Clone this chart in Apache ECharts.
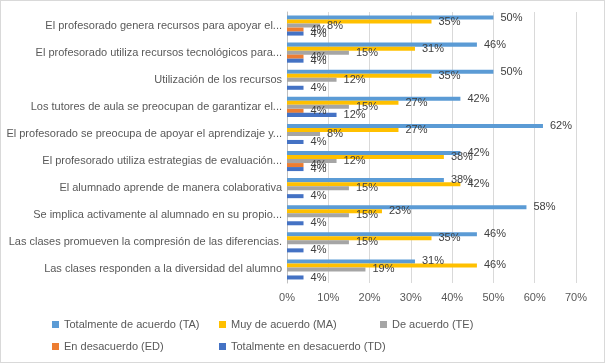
<!DOCTYPE html>
<html><head><meta charset="utf-8">
<script src="https://cdn.jsdelivr.net/npm/echarts@6/dist/echarts.min.js"></script>
<style>html,body{margin:0;padding:0;background:#fff}#c{width:603px;height:361px;border:1px solid #d9d9d9}</style>
</head><body><div id="c"></div>
<script>
const categories = [
  "El profesorado genera recursos para apoyar el...",
  "El profesorado utiliza recursos tecnológicos para...",
  "Utilización de los recursos",
  "Los tutores de aula se preocupan de garantizar el...",
  "El profesorado se preocupa de apoyar el aprendizaje y...",
  "El profesorado utiliza estrategias de evaluación...",
  "El alumnado aprende de manera colaborativa",
  "Se implica activamente al alumnado en su propio...",
  "Las clases promueven la compresión de las diferencias.",
  "Las clases responden a la diversidad del alumno"
];
const seriesNames = ["Totalmente de acuerdo (TA)","Muy de acuerdo (MA)","De acuerdo (TE)","En desacuerdo (ED)","Totalmente en desacuerdo (TD)"];
const TA = [50,46,50,42,62,42,38,58,46,31];
const MA = [35,31,35,27,27,38,42,23,35,46];
const TE = [8,15,12,15,8,12,15,15,15,19];
const ED = [4,4,null,4,null,4,null,null,null,null];
const TD = [4,4,4,12,4,4,4,4,4,4];
const xTicks = [0,10,20,30,40,50,60,70];
const colors = ["#5b9bd5","#ffc000","#a5a5a5","#ed7d31","#4472c4"];
const values = [TA,MA,TE,ED,TD];

const font = "'Liberation Sans', Arial, sans-serif";
const chart = echarts.init(document.getElementById('c'));
const legendPos = [[46,313],[213,313],[374,313],[46,335],[213,335]];
chart.setOption({
  animation:false,
  color: colors,
  textStyle:{fontFamily:font},
  grid:{left:286,right:28,top:11,bottom:79},
  xAxis:{type:'value',min:xTicks[0],max:xTicks[xTicks.length-1],interval:10,
    axisLabel:{formatter:'{value}%',color:'#595959',fontSize:11,margin:9},
    splitLine:{lineStyle:{color:'#d9d9d9'}},axisLine:{show:false},axisTick:{show:false}},
  yAxis:{type:'category',data:categories,inverse:true,
    axisLabel:{color:'#595959',fontSize:11,margin:5},
    axisLine:{lineStyle:{color:'#bfbfbf'}},axisTick:{show:false}},
  legend: seriesNames.map((n,i)=>({data:[n],left:legendPos[i][0],top:legendPos[i][1],
    itemWidth:7,itemHeight:7,itemGap:3,icon:'rect',
    textStyle:{color:'#595959',fontSize:11,fontFamily:font}})),
  series: seriesNames.map((n,i)=>({name:n,type:'bar',data:values[i],
    barGap:'0%',barCategoryGap:'26%',itemStyle:{color:colors[i]},
    label:{show:true,position:'right',distance:7,formatter:p=>p.value+'%',color:'#404040',fontSize:11,fontFamily:font}}))
});
</script></body></html>
